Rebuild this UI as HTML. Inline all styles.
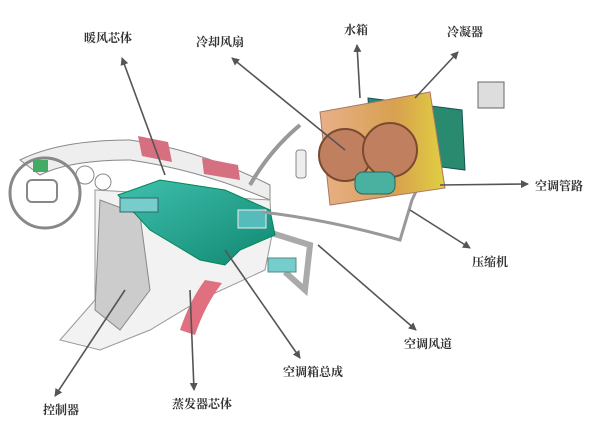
<!DOCTYPE html><html><head><style>body{margin:0;background:#fff}svg{display:block}</style></head><body>
<svg width="610" height="439" viewBox="0 0 610 439" xmlns="http://www.w3.org/2000/svg" font-family="'Liberation Serif','Noto Serif CJK SC',serif">
<defs><marker id="a" markerWidth="8" markerHeight="8" refX="7" refY="4" orient="auto" markerUnits="userSpaceOnUse"><path d="M0,0 L8,4 L0,8 Z" fill="#555"/></marker>
<linearGradient id="rad" x1="0" x2="1"><stop offset="0" stop-color="#e8b088"/><stop offset="0.6" stop-color="#d8a050"/><stop offset="1" stop-color="#e0d040"/></linearGradient>
<linearGradient id="tl" x1="0" x2="1" y1="0" y2="1"><stop offset="0" stop-color="#40c0b0"/><stop offset="1" stop-color="#108870"/></linearGradient></defs>
<!-- dashboard -->
<path d="M20,160 Q60,140 130,140 Q200,150 270,185 L270,200 Q200,170 130,160 Q70,160 40,175 Z" fill="#eee" stroke="#888"/>
<path d="M95,190 L270,200 L272,235 L265,270 L200,300 L150,330 L100,350 L60,340 L95,300 Z" fill="#f2f2f2" stroke="#999"/>
<path d="M100,200 L140,215 L150,290 L120,330 L95,310 Z" fill="#ccc" stroke="#888"/>
<circle cx="45" cy="193" r="35" fill="none" stroke="#888" stroke-width="3"/>
<rect x="27" y="180" width="30" height="22" rx="5" fill="none" stroke="#888" stroke-width="2"/>
<rect x="33" y="160" width="15" height="12" fill="#4a6"/>
<circle cx="85" cy="175" r="9" fill="none" stroke="#888"/><circle cx="103" cy="182" r="8" fill="none" stroke="#888"/>
<!-- duct right -->
<path d="M230,220 L310,245 L305,290 L285,272" fill="none" stroke="#aaa" stroke-width="6"/>
<rect x="268" y="258" width="28" height="14" fill="#7cc" stroke="#588"/>
<!-- hvac -->
<path d="M118,195 L160,180 L225,190 L270,210 L275,235 L240,250 L225,265 L200,260 L175,245 L150,230 Z" fill="url(#tl)" stroke="#085"/>
<rect x="120" y="198" width="38" height="14" fill="#7cc" stroke="#366"/>
<rect x="238" y="210" width="28" height="18" fill="#5bb" stroke="#eee"/>
<!-- pink -->
<path d="M138,136 L168,142 L172,162 L142,156 Z" fill="#d67080"/>
<path d="M202,158 L238,165 L240,180 L204,174 Z" fill="#d67080"/>
<path d="M180,330 Q190,300 205,280 L222,283 Q205,305 195,335 Z" fill="#e07080"/>
<!-- pipes -->
<path d="M250,185 Q270,150 300,125" fill="none" stroke="#999" stroke-width="4"/>
<path d="M262,212 Q330,220 400,240 L412,200 L440,140" fill="none" stroke="#999" stroke-width="3"/>
<rect x="296" y="150" width="10" height="28" rx="3" fill="#eee" stroke="#888"/>
<!-- condenser & radiator -->
<path d="M368,98 L462,110 L465,170 L372,158 Z" fill="#2a8a70" stroke="#155"/>
<path d="M320,112 L430,92 L445,188 L330,205 Z" fill="url(#rad)" stroke="#a76"/>
<circle cx="345" cy="155" r="26" fill="#c08060" stroke="#7a4a30" stroke-width="2"/>
<circle cx="390" cy="150" r="27" fill="#c08060" stroke="#7a4a30" stroke-width="2"/>
<rect x="478" y="82" width="26" height="26" fill="#ddd" stroke="#666"/>
<rect x="355" y="172" width="40" height="22" rx="8" fill="#4ab0a0" stroke="#266"/>
<!-- arrows -->
<g stroke="#555" stroke-width="1.6" fill="none" marker-end="url(#a)">
<line x1="165" y1="175" x2="122" y2="58"/><line x1="345" y1="150" x2="232" y2="58"/>
<line x1="360" y1="98" x2="357" y2="45"/><line x1="415" y1="98" x2="458" y2="52"/>
<line x1="440" y1="185" x2="528" y2="184"/><line x1="410" y1="210" x2="470" y2="248"/>
<line x1="318" y1="245" x2="416" y2="330"/><line x1="225" y1="250" x2="300" y2="358"/>
<line x1="190" y1="290" x2="194" y2="390"/><line x1="125" y1="290" x2="55" y2="396"/>
</g>
<g font-size="12" font-weight="bold" fill="#333">
<text x="84" y="42">暖风芯体</text><text x="196" y="46">冷却风扇</text>
<text x="344" y="34">水箱</text><text x="447" y="36">冷凝器</text>
<text x="535" y="190">空调管路</text><text x="472" y="266">压缩机</text>
<text x="404" y="348">空调风道</text><text x="283" y="376">空调箱总成</text>
<text x="172" y="408">蒸发器芯体</text><text x="43" y="414">控制器</text>
</g>
</svg></body></html>
